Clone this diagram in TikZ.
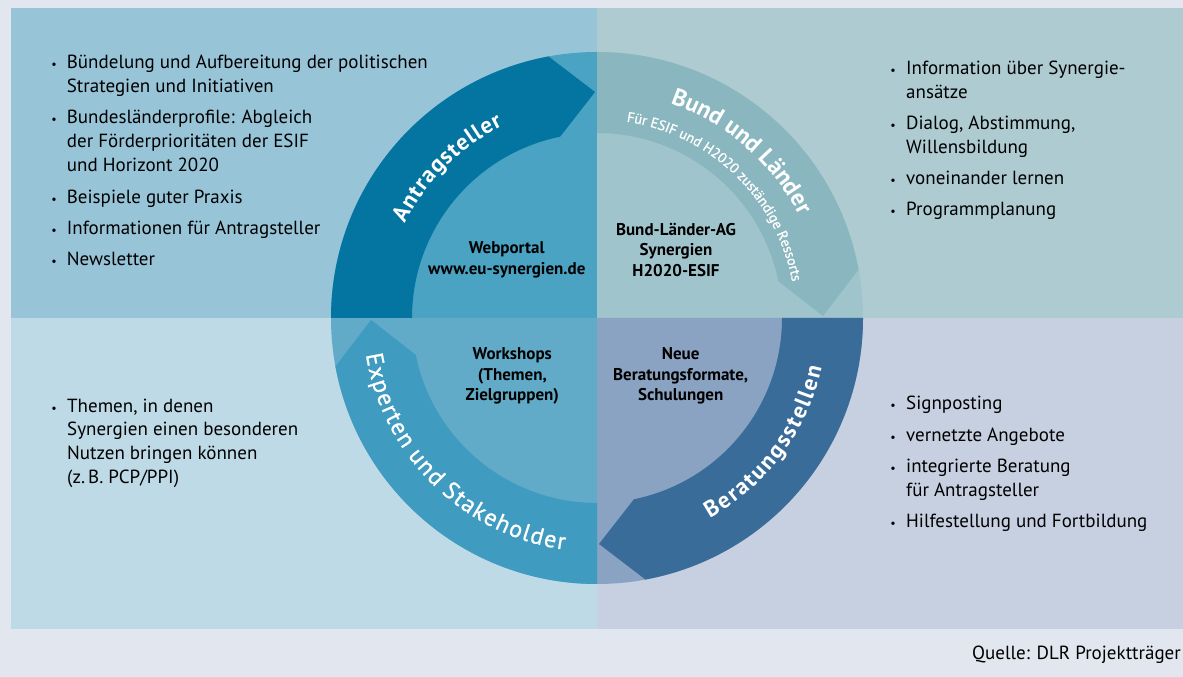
\documentclass[tikz,border=0pt]{standalone}
\usepackage{fontspec}
\setmainfont{PT Sans}
\newfontfamily\ptsemi[FakeBold=0.9]{PT Sans}
\usetikzlibrary{calc,decorations.text}
\definecolor{pagebg}{HTML}{E1E6EF}
\definecolor{tlbg}{HTML}{98C4D8}
\definecolor{tlc}{HTML}{4BA3C4}
\definecolor{tla}{HTML}{0475A0}
\definecolor{trbg}{HTML}{ADCBD1}
\definecolor{trc}{HTML}{9FC4CB}
\definecolor{tra}{HTML}{89B6BF}
\definecolor{blbg}{HTML}{BEDAE6}
\definecolor{blc}{HTML}{62ABC8}
\definecolor{bla}{HTML}{3F9BBF}
\definecolor{brbg}{HTML}{C7D0E1}
\definecolor{brc}{HTML}{8AA3C2}
\definecolor{bra}{HTML}{3A6C9A}
\def\ka{\kern1pt}
\def\kb{\kern1.8pt}
\def\kc{\kern1.5pt}
\newcommand\ringarrow[2]{%
  \fill[#2] ($(C)+(#1:266)$) arc[start angle=#1, end angle=#1-79.5, radius=266]
    -- ($(C)+(#1-89.5:226)$)
    -- ($(C)+(#1-78.5:185)$) arc[start angle=#1-78.5, end angle=#1, radius=185] -- cycle;}
\newcommand\ringsector[2]{%
  \fill[#2] (C) -- ($(C)+(#1:266)$) arc[start angle=#1, end angle=#1-90, radius=266] -- cycle;}
\begin{document}
\begin{tikzpicture}[x=1pt,y=1pt,
  li/.style={anchor=base west, inner sep=0pt, font=\fontsize{19}{24}\selectfont, text=black},
  bul/.style={anchor=base, inner sep=0pt, font=\fontsize{12}{12}\selectfont, text=black},
  ctr/.style={align=center, inner sep=0pt, font=\bfseries\fontsize{17}{20.7}\selectfont, text=black},
  arctext/.style={decorate, decoration={text along path, text align=center, text color=white}},
]
\fill[pagebg] (0,0) rectangle (1183,677);
\coordinate (C) at (597,359);
% panels
\fill[tlbg] (11,359) rectangle (597,669);
\fill[trbg] (597,359) rectangle (1183,669);
\fill[blbg] (11,48) rectangle (597,359);
\fill[brbg] (597,48) rectangle (1183,359);
% sectors
\ringsector{180}{tlc}
\ringsector{90}{trc}
\ringsector{0}{brc}
\ringsector{-90}{blc}
% arrows
\ringarrow{180}{tla}
\ringarrow{90}{tra}
\ringarrow{0}{bra}
\ringarrow{-90}{bla}
% arc texts
\path[arctext, decoration={text={|\bfseries\fontsize{23}{26}\selectfont|{A\ka}{n\ka}{t\ka}{r\ka}{a\ka}{g\ka}{s\ka}{t\ka}{e\ka}{l\ka}{l\ka}{e\ka}r}}]
  ($(C)+(175:214)$) arc[start angle=175, end angle=95, radius=214];
\path[arctext, decoration={text={|\bfseries\fontsize{24}{26}\selectfont|Bund und Länder}}]
  ($(C)+(89:226.5)$) arc[start angle=89, end angle=9, radius=226.5];
\path[arctext, decoration={text={|\ptsemi\fontsize{14.2}{16}\selectfont|Für ESIF und H2020 zuständige Ressorts}}]
  ($(C)+(95:198.5)$) arc[start angle=95, end angle=-3, radius=198.5];
\path[arctext, decoration={text={|\bfseries\fontsize{23}{26}\selectfont|{B\kb}{e\kb}{r\kb}{a\kb}{t\kb}{u\kb}{n\kb}{g\kb}{s\kb}{s\kb}{t\kb}{e\kb}{l\kb}{l\kb}{e\kb}n}}]
  ($(C)+(-76.5:230)$) arc[start angle=-76.5, end angle=3.5, radius=230];
\path[arctext, decoration={text={|\ptsemi\fontsize{24}{26}\selectfont|{E\kc}{x\kc}{p\kc}{e\kc}{r\kc}{t\kc}{e\kc}{n\kc} {u\kc}{n\kc}{d\kc} {S\kc}{t\kc}{a\kc}{k\kc}{e\kc}{h\kc}{o\kc}{l\kc}{d\kc}{e\kc}r}}]
  ($(C)+(175.5:234)$) arc[start angle=175.5, end angle=275.5, radius=234];
% centre labels
\node[ctr] (web) at (506.7,417.3) {Webportal\\www.eu-synergien.de};
\node[ctr] (ag) at (676,427.3) {Bund-Länder-AG\\Synergien\\H2020-ESIF};
\node[ctr] (ws) at (512.3,301) {Workshops\\(Themen,\\Zielgruppen)};
\node[ctr] (nb) at (680.7,301) {Neue\\Beratungsformate,\\Schulungen};
% top-left list
\node[bul] (tlb1) at (54,608.5) {•};
\node[li] (tl1a) at (66.7,608.5) {Bündelung und Aufbereitung der politischen};
\node[li] (tl1b) at (66.7,584.5) {Strategien und Initiativen};
\node[bul] (tlb2) at (54,553) {•};
\node[li] (tl2a) at (66.7,553) {Bundesländerprofile: Abgleich};
\node[li] (tl2b) at (66.7,529) {der Förderprioritäten der ESIF};
\node[li] (tl2c) at (66.7,505) {und Horizont 2020};
\node[bul] (tlb3) at (54,473.5) {•};
\node[li] (tl3) at (66.7,473.5) {Beispiele guter Praxis};
\node[bul] (tlb4) at (54,442) {•};
\node[li] (tl4) at (66.7,442) {Informationen für Antragsteller};
\node[bul] (tlb5) at (54,411) {•};
\node[li] (tl5) at (66.7,411) {Newsletter};
% top-right list
\node[bul] (trb1) at (893,602.5) {•};
\node[li] (tr1a) at (906,602.5) {Information über Synergie-};
\node[li] (tr1b) at (906,578.5) {ansätze};
\node[bul] (trb2) at (893,547) {•};
\node[li] (tr2a) at (906,547) {Dialog, Abstimmung,};
\node[li] (tr2b) at (906,523) {Willensbildung};
\node[bul] (trb3) at (893,492) {•};
\node[li] (tr3) at (906,492) {voneinander lernen};
\node[bul] (trb4) at (893,461) {•};
\node[li] (tr4) at (906,461) {Programmplanung};
% bottom-left list
\node[bul] (blb1) at (54,264.5) {•};
\node[li] (bl1a) at (67,264.5) {Themen, in denen};
\node[li] (bl1b) at (67,241) {Synergien einen besonderen};
\node[li] (bl1c) at (67,217.5) {Nutzen bringen können};
\node[li] (bl1d) at (67,193.5) {(z.\,B. PCP/PPI)};
% bottom-right list
\node[bul] (brb1) at (893,267) {•};
\node[li] (br1) at (906,267) {Signposting};
\node[bul] (brb2) at (893,235.5) {•};
\node[li] (br2) at (906,235.5) {vernetzte Angebote};
\node[bul] (brb3) at (893,204.5) {•};
\node[li] (br3a) at (906,204.5) {integrierte Beratung};
\node[li] (br3b) at (906,180.5) {für Antragsteller};
\node[bul] (brb4) at (893,149) {•};
\node[li] (br4) at (906,149) {Hilfestellung und Fortbildung};
% source
\node[anchor=base east, inner sep=0pt, font=\fontsize{19}{24}\selectfont] (src) at (1181,17.2) {Quelle: DLR Projektträger};
\end{tikzpicture}
\end{document}
